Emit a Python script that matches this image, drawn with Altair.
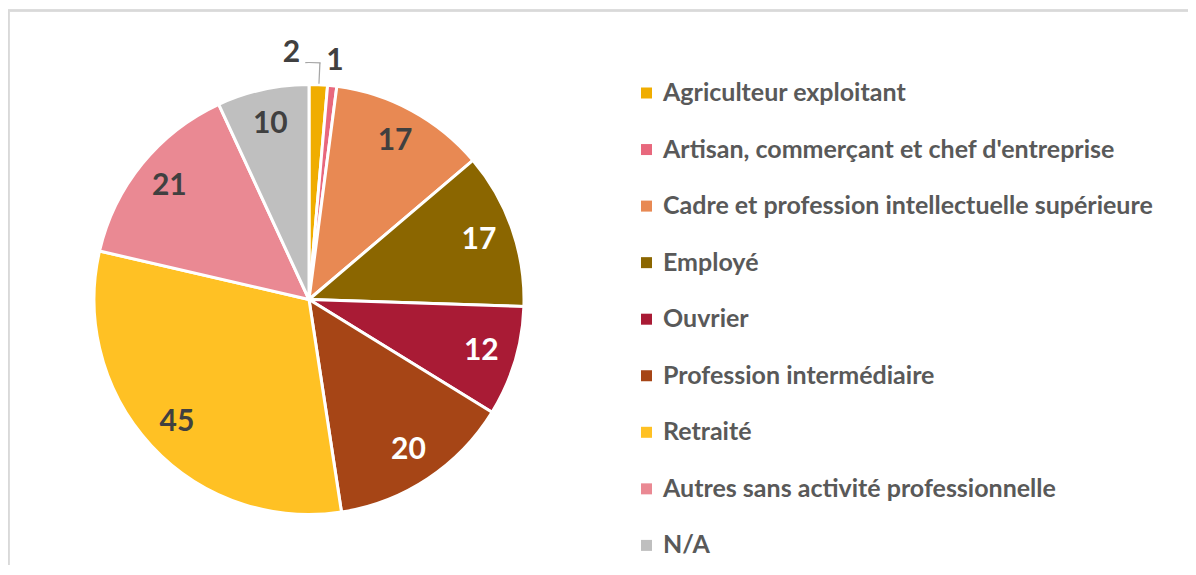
import math
import altair as alt
import pandas as pd

categories = [
    "Agriculteur exploitant",
    "Artisan, commerçant et chef d'entreprise",
    "Cadre et profession intellectuelle supérieure",
    "Employé",
    "Ouvrier",
    "Profession intermédiaire",
    "Retraité",
    "Autres sans activité professionnelle",
    "N/A",
]
values = [2, 1, 17, 17, 12, 20, 45, 21, 10]
colors = ["#F0AD00", "#E8687D", "#E88953", "#8B6600", "#A91B35",
          "#A64516", "#FFC124", "#EA8993", "#BFBFBF"]
white_label_categories = ["Employé", "Ouvrier", "Profession intermédiaire"]
outside_label_categories = ["Agriculteur exploitant",
                            "Artisan, commerçant et chef d'entreprise"]
leader_category = "Agriculteur exploitant"

total = sum(values)
starts = []
acc = 0
for v in values:
    starts.append(acc)
    acc += v
df = pd.DataFrame({
    "cat": categories,
    "value": values,
    "start": starts,
    "end": [s + v for s, v in zip(starts, values)],
})
df["mid"] = df["start"] + df["value"] / 2

# layout
CX, CY = 301, 291.5
R = 215
LABEL_R = 180
OUT_R = 240
LEADER_R = 237
unit_per_px = total / (2 * math.pi * LEADER_R)
lw = 1.3 * unit_per_px
left_len = 14 * unit_per_px

theta_scale = alt.Scale(domain=[0, total], range=[0, 2 * math.pi])
cx = alt.value(CX)
cy = alt.value(CY)

base = alt.Chart(df)

color = alt.Color(
    "cat:N",
    scale=alt.Scale(domain=categories, range=colors),
    sort=categories,
    legend=alt.Legend(
        title=None, orient="none", legendX=626, legendY=72.5,
        symbolType="square", symbolSize=121, symbolStrokeWidth=0,
        labelFont="Lato", labelFontSize=25, labelFontWeight="bold",
        labelColor="#595959", labelOffset=4, labelLimit=0,
        rowPadding=30.55, padding=0,
    ),
)

arcs = base.mark_arc(outerRadius=R, stroke="white", strokeWidth=3).encode(
    theta=alt.Theta("start:Q", scale=theta_scale),
    theta2="end:Q",
    color=color,
    x=cx, y=cy,
)

inner_labels = base.transform_filter(
    {"not": {"field": "cat", "oneOf": outside_label_categories}}
).mark_text(radius=LABEL_R, font="Lato", fontSize=30, fontWeight="bold").encode(
    theta=alt.Theta("mid:Q", scale=theta_scale),
    text="value:Q",
    color=alt.condition(
        alt.FieldOneOfPredicate(field="cat", oneOf=white_label_categories),
        alt.value("white"), alt.value("#404040")),
    x=cx, y=cy,
)

label_one = base.transform_filter(
    alt.FieldEqualPredicate(field="cat", equal=outside_label_categories[1])
).mark_text(radius=OUT_R, font="Lato", fontSize=30, fontWeight="bold",
            color="#404040").encode(
    theta=alt.Theta("mid:Q", scale=theta_scale), text="value:Q", x=cx, y=cy,
)

label_two = base.transform_filter(
    alt.FieldEqualPredicate(field="cat", equal=outside_label_categories[0])
).mark_text(radius=OUT_R, font="Lato", fontSize=30, fontWeight="bold",
            color="#404040", dx=-28, dy=-7).encode(
    theta=alt.Theta("mid:Q", scale=theta_scale), text="value:Q", x=cx, y=cy,
)

leader_base = base.transform_filter(
    alt.FieldEqualPredicate(field="cat", equal=leader_category)
).transform_calculate(
    t_end=f"datum.mid + {lw}",
    t_left=f"datum.mid - {left_len}",
)
leader_radial = leader_base.mark_arc(
    radius=LEADER_R, radius2=R + 1, color="#A6A6A6").encode(
    theta=alt.Theta("mid:Q", scale=theta_scale), theta2="t_end:Q", x=cx, y=cy,
)
leader_horiz = leader_base.mark_arc(
    radius=LEADER_R + 0.6, radius2=LEADER_R - 0.6, color="#A6A6A6").encode(
    theta=alt.Theta("t_left:Q", scale=theta_scale), theta2="t_end:Q", x=cx, y=cy,
)

frame_top = alt.Chart(df).mark_rule(color="#D9D9D9", strokeWidth=1.5).encode(
    x=alt.value(0), x2=alt.value(1180), y=alt.value(2.5), y2=alt.value(2.5))
frame_left = alt.Chart(df).mark_rule(color="#D9D9D9", strokeWidth=1.5).encode(
    x=alt.value(0.5), x2=alt.value(0.5), y=alt.value(2), y2=alt.value(560))

chart = alt.layer(
    frame_top, frame_left, arcs, inner_labels, leader_radial, leader_horiz,
    label_one, label_two,
).properties(
    width=1180, height=557, autosize=alt.AutoSizeParams(type="none"), padding=0,
).configure_view(stroke=None).resolve_scale(theta="shared")

chart.save("out.html", embed_options={"renderer": "svg", "actions": False})
